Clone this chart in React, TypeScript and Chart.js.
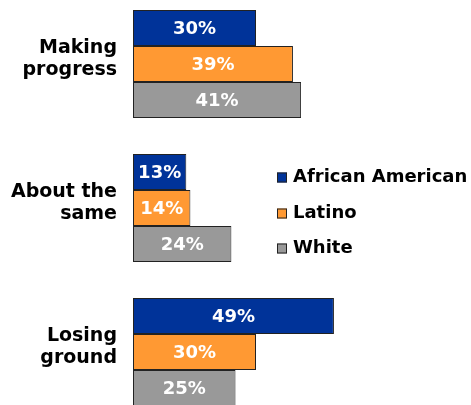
import React, { useEffect, useRef } from "react";
import { Chart, registerables } from "chart.js";

Chart.register(...registerables);

const categories: string[][] = [["Making", "progress"], ["About the", "same"], ["Losing", "ground"]];
const seriesNames = ["African American", "Latino", "White"];
const africanAmerican = [30, 13, 49];
const latino = [39, 14, 30];
const white = [41, 24, 25];
const colors = ["#003399", "#FF9933", "#999999"];

const FONT = "'DejaVu Sans', Verdana, sans-serif";

const valueLabels = {
  id: "valueLabels",
  afterDatasetsDraw(chart: any) {
    const ctx = chart.ctx;
    ctx.save();
    ctx.fillStyle = "#ffffff";
    ctx.font = `bold 18px ${FONT}`;
    ctx.textAlign = "center";
    ctx.textBaseline = "middle";
    chart.data.datasets.forEach((ds: any, di: number) => {
      const meta = chart.getDatasetMeta(di);
      meta.data.forEach((el: any, i: number) => {
        const cx = (el.base + el.x) / 2;
        ctx.fillText(ds.data[i] + "%", cx, el.y + 1);
      });
    });
    ctx.restore();
  },
};

const customLegend = {
  id: "customLegend",
  afterDraw(chart: any) {
    const ctx = chart.ctx;
    ctx.save();
    const x0 = 277;
    const ys = [177 + 8.5, 213 + 8.5, 248 + 8.5];
    chart.data.datasets.forEach((ds: any, di: number) => {
      const y = ys[di];
      ctx.fillStyle = ds.backgroundColor;
      ctx.fillRect(x0, y - 5, 10, 10);
      ctx.strokeStyle = "#222";
      ctx.lineWidth = 1;
      ctx.strokeRect(x0 + 0.5, y - 4.5, 9, 9);
      ctx.fillStyle = "#000";
      ctx.font = `bold 18px ${FONT}`;
      ctx.textAlign = "left";
      ctx.textBaseline = "middle";
      ctx.fillText(ds.label, x0 + 16, y);
    });
    ctx.restore();
  },
};

export default function App() {
  const ref = useRef<HTMLCanvasElement>(null);
  useEffect(() => {
    if (!ref.current) return;
    const data = [africanAmerican, latino, white];
    const chart = new Chart(ref.current, {
      type: "bar",
      data: {
        labels: categories as any,
        datasets: seriesNames.map((name, i) => ({
          label: name,
          data: data[i],
          backgroundColor: colors[i],
          borderColor: "#222222",
          borderWidth: 1,
          borderSkipped: false,
          categoryPercentage: 0.75,
          barPercentage: 1.0,
        })),
      },
      options: {
        indexAxis: "y",
        responsive: false,
        animation: false,
        layout: { padding: { left: 0, right: 10, top: 0, bottom: 0 } },
        plugins: {
          legend: { display: false },
          tooltip: { enabled: false },
        },
        scales: {
          x: { display: false, min: 0, max: 80 },
          y: {
            grid: { display: false, drawTicks: false },
            border: { display: false },
            ticks: {
              padding: 16,
              labelOffset: -5,
              color: "#000",
              font: { family: FONT, size: 19, weight: "bold", lineHeight: 1.15 },
            },
            afterFit(scale: any) {
              scale.width = 133;
              scale.paddingTop = 0;
              scale.paddingBottom = 0;
            },
          },
        },
      },
      plugins: [valueLabels, customLegend],
    });
    return () => chart.destroy();
  }, []);
  return (
    <div style={{ position: "fixed", left: 0, top: -8.5, width: 471, height: 432 }}>
      <canvas ref={ref} width={471} height={432} style={{ display: "block" }} />
    </div>
  );
}
